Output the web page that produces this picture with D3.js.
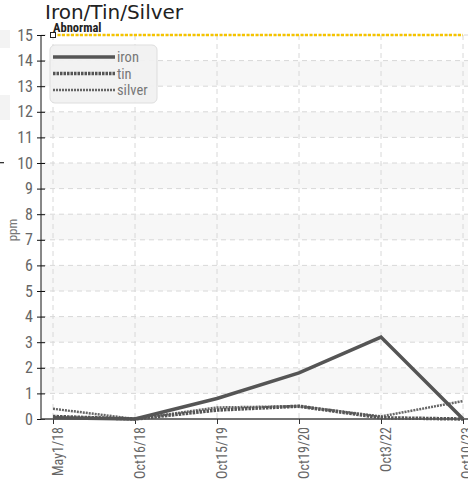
<!DOCTYPE html>
<html><head><meta charset="utf-8">
<script src="https://cdn.jsdelivr.net/npm/d3@7"></script>
<style>
body{margin:0;background:#fff;}
.cond{font-family:"Liberation Sans Narrow","Roboto Condensed","Roboto",sans-serif;}
</style></head>
<body><svg id="c" width="468" height="480"></svg>
<script>
const categories = ["May1/18","Oct16/18","Oct15/19","Oct19/20","Oct3/22","Oct10/23"];
const iron   = [0.05, 0, 0.8, 1.8, 3.2, 0];
const tin    = [0.1, 0, 0.35, 0.5, 0.05, 0];
const silver = [0.4, 0, 0.45, 0.5, 0.1, 0.7];
const abnormal = 15;
const yTicks = d3.range(0, 16);
const seriesNames = ["iron","tin","silver"];

(function(){
const svg = d3.select("#c");
const pL = 41, pR = 468, pT = 35, pB = 419;
const x = d3.scalePoint().domain(categories).range([53, 463]);
const y = d3.scaleLinear().domain([0, 15]).range([pB, pT]);

// neighbour artifacts at the left edge
svg.append("rect").attr("x",0).attr("y",30).attr("width",10).attr("height",18).attr("fill","#f3f3f3");
svg.append("rect").attr("x",0).attr("y",95).attr("width",10).attr("height",25).attr("fill","#f3f3f3");
svg.append("rect").attr("x",0).attr("y",162).attr("width",4).attr("height",1.3).attr("fill","#333");

// bands
yTicks.filter(v => v % 2 === 1 && v < 15).forEach(v => {
  svg.append("rect").attr("x", pL).attr("y", y(v+1)).attr("width", pR-pL)
    .attr("height", y(v)-y(v+1)).attr("fill", "#f7f7f7");
});
// horizontal grid
svg.append("g").selectAll("line").data(yTicks.filter(v=>v>0)).join("line")
  .attr("x1", pL).attr("x2", pR).attr("y1", d=>y(d)).attr("y2", d=>y(d))
  .attr("stroke", "#d8d8d8").attr("stroke-dasharray","5,4");
// vertical grid
svg.append("g").selectAll("line").data(categories).join("line")
  .attr("x1", d=>x(d)).attr("x2", d=>x(d)).attr("y1", pT).attr("y2", pB)
  .attr("stroke", "#d8d8d8").attr("stroke-dasharray","5,4");

// y axis
const ya = svg.append("g").attr("transform",`translate(${pL},0)`)
  .call(d3.axisLeft(y).tickValues(yTicks).tickSize(4).tickPadding(4).tickFormat(d3.format("d")));
ya.select(".domain").attr("stroke","#111").attr("d",`M0,${pT}V${pB}`);
ya.selectAll(".tick line").attr("x1",-4).attr("x2",4).attr("stroke","#111");
ya.selectAll("text").attr("class","cond").attr("font-size",16).attr("fill","#666");

// x axis
const xa = svg.append("g").attr("transform",`translate(0,${pB})`)
  .call(d3.axisBottom(x).tickSize(5).tickPadding(0));
xa.select(".domain").attr("stroke","#444").attr("stroke-width",1.5).attr("d",`M${pL},0H${pR}`);
xa.selectAll(".tick line").attr("stroke","#333");
const nCat = categories.length;
xa.selectAll("text").attr("class","cond").attr("font-size",14).attr("fill","#666")
  .attr("text-anchor","end").attr("dy",null)
  .attr("transform",(d,i)=> i === nCat-1 ? "translate(3,8) rotate(-90)" : "translate(4.5,8) rotate(-90)");

// abnormal line
svg.append("line").attr("x1", x(categories[0])).attr("x2", x(categories[categories.length-1]))
  .attr("y1", y(abnormal)).attr("y2", y(abnormal))
  .attr("stroke","#f5c400").attr("stroke-width",2.5).attr("stroke-dasharray","3,1.5");
svg.append("rect").attr("x", x(categories[0])-2.5).attr("y", y(abnormal)-2.5).attr("width",5).attr("height",5)
  .attr("fill","#fff").attr("stroke","#222").attr("stroke-width",1);
svg.append("text").attr("class","cond").attr("x", x(categories[0])).attr("y", y(abnormal)-3.5)
  .attr("font-size",12.5).attr("font-weight","bold").attr("fill","#222").text("Abnormal");

// lines
const line = d3.line().x((d,i)=>x(categories[i])).y(d=>y(d));
const styles = {
  iron:   {w:3.5, dash:null, col:"#555"},
  tin:    {w:3.5, dash:"2.5,1", col:"#555"},
  silver: {w:2.5, dash:"2,1", col:"#666"}
};
const data = {iron, tin, silver};
["silver","tin","iron"].forEach(n => {
  svg.append("path").attr("d", line(data[n])).attr("fill","none")
    .attr("stroke", styles[n].col).attr("stroke-width", styles[n].w)
    .attr("stroke-dasharray", styles[n].dash);
});

// legend
svg.append("rect").attr("x",50).attr("y",45).attr("width",107).attr("height",58).attr("rx",5)
  .attr("fill","#f2f2f2").attr("stroke","#ddd").attr("opacity",0.95);
seriesNames.forEach((n,i) => {
  const yy = 57 + i*16.5;
  svg.append("line").attr("x1",53).attr("x2",115).attr("y1",yy).attr("y2",yy)
    .attr("stroke", styles[n].col).attr("stroke-width", styles[n].w)
    .attr("stroke-dasharray", styles[n].dash);
  svg.append("text").attr("class","cond").attr("x",117).attr("y",yy+5)
    .attr("font-size",14.5).attr("fill","#777").text(n);
});

// title
svg.append("text").attr("x",45).attr("y",19).attr("font-family","DejaVu Sans, sans-serif")
  .attr("font-size",20).attr("fill","#222").text("Iron/Tin/Silver");
// y label
svg.append("text").attr("class","cond").attr("transform","translate(17,230) rotate(-90)")
  .attr("text-anchor","middle").attr("font-size",13).attr("fill","#777").text("ppm");
})();
</script></body></html>
